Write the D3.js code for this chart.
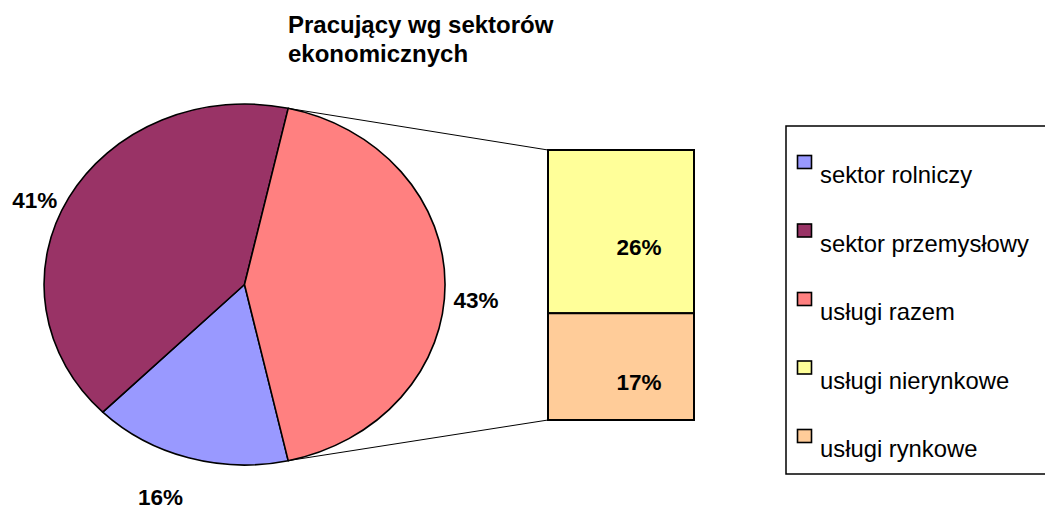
<!DOCTYPE html>
<html><head><meta charset="utf-8">
<script src="https://cdn.jsdelivr.net/npm/d3@7"></script>
<style>
html,body{margin:0;padding:0;background:#fff;}
svg{display:block;font-family:"Liberation Sans",Arial,sans-serif;}
</style></head>
<body><svg id="c" width="1045" height="510"></svg>
<script>
// ---- data ----
const titleLines = ["Pracujący wg sektorów", "ekonomicznych"];
const pieCategories = ["sektor rolniczy", "sektor przemysłowy", "usługi razem"];
const pieValues = [16, 41, 43];
const barCategories = ["usługi nierynkowe", "usługi rynkowe"];
const barValues = [26, 17];
const legendLabels = ["sektor rolniczy", "sektor przemysłowy", "usługi razem", "usługi nierynkowe", "usługi rynkowe"];
const colors = ["#9999FF", "#993366", "#FF8080", "#FFFF99", "#FFCC99"];

// ---- layout ----
const svg = d3.select("#c");
const cx = 244.5, cy = 284.5, rx = 200.5, ry = 180.5;
const barX0 = 548, barX1 = 694, barY0 = 150, barY1 = 420;

// title
svg.append("text").attr("x", 288).attr("y", 33)
  .attr("font-size", 24).attr("font-weight", "bold")
  .selectAll("tspan").data(titleLines).join("tspan")
  .attr("x", 288).attr("dy", (d, i) => i ? 29 : 0).text(d => d);

// pie: split slice (last) centered on the right (east)
const total = d3.sum(pieValues);
const splitShare = pieValues[pieValues.length - 1] / total;
const start = Math.PI / 2 + Math.PI * splitShare;
const pie = d3.pie().sort(null).startAngle(start).endAngle(start + 2 * Math.PI);
const arcs = pie(pieValues);
const arc = d3.arc().innerRadius(0).outerRadius(1);
const ept = a => [cx + Math.sin(a) * rx, cy - Math.cos(a) * ry];

const g = svg.append("g").attr("transform", `translate(${cx},${cy}) scale(${rx},${ry})`);
g.selectAll("path").data(arcs).join("path")
  .attr("d", arc)
  .attr("fill", (d, i) => colors[i])
  .attr("stroke", "#000").attr("stroke-width", 1.6)
  .attr("vector-effect", "non-scaling-stroke")
  .attr("stroke-linejoin", "round");

// pie labels
const labelOffsets = [[-28, 47], [-34, 10], [31, 23]];
arcs.forEach((d, i) => {
  const m = (d.startAngle + d.endAngle) / 2;
  const p = ept(m);
  svg.append("text")
    .attr("x", p[0] + labelOffsets[i][0]).attr("y", p[1] + labelOffsets[i][1])
    .attr("text-anchor", "middle")
    .attr("font-size", 22.5).attr("font-weight", "bold")
    .text(Math.round(d.value / total * 100) + "%");
});

// bar of the split slice
const split = arcs[arcs.length - 1];
const y = d3.scaleLinear().domain([0, d3.sum(barValues)]).range([barY0, barY1]);
const stack = [];
let acc = 0;
barValues.forEach((v, i) => { stack.push({v, i, y0: acc, y1: acc + v}); acc += v; });

// connector lines (split slice spans from the top point, clockwise, to the bottom point)
const topPt = ept(split.startAngle);
const botPt = ept(split.endAngle);
svg.append("line").attr("x1", topPt[0]).attr("y1", topPt[1]).attr("x2", barX0).attr("y2", y(0))
  .attr("stroke", "#000").attr("stroke-width", 1);
svg.append("line").attr("x1", botPt[0]).attr("y1", botPt[1]).attr("x2", barX0).attr("y2", y(acc))
  .attr("stroke", "#000").attr("stroke-width", 1);

svg.selectAll("rect.bar").data(stack).join("rect").attr("class", "bar")
  .attr("x", barX0).attr("width", barX1 - barX0)
  .attr("y", d => y(d.y0)).attr("height", d => y(d.y1) - y(d.y0))
  .attr("fill", d => colors[pieValues.length + d.i])
  .attr("stroke", "#000").attr("stroke-width", 2);

svg.selectAll("text.barl").data(stack).join("text").attr("class", "barl")
  .attr("x", (barX0 + barX1) / 2 + 18)
  .attr("y", d => (y(d.y0) + y(d.y1)) / 2 + 23)
  .attr("text-anchor", "middle")
  .attr("font-size", 22.5).attr("font-weight", "bold")
  .text(d => Math.round(d.v / total * 100) + "%");

// legend
const lg = svg.append("g");
lg.append("rect").attr("x", 786).attr("y", 126).attr("width", 280).attr("height", 348)
  .attr("fill", "#fff").attr("stroke", "#000").attr("stroke-width", 1.5);
const ly = d3.scalePoint().domain(legendLabels).range([183, 457]);
legendLabels.forEach((t, i) => {
  lg.append("rect").attr("x", 797.5).attr("y", ly(t) - 27.5).attr("width", 14).attr("height", 13)
    .attr("fill", colors[i]).attr("stroke", "#000").attr("stroke-width", 1.6);
  lg.append("text").attr("x", 820).attr("y", ly(t)).attr("font-size", 23.8).text(t);
});
</script></body></html>
